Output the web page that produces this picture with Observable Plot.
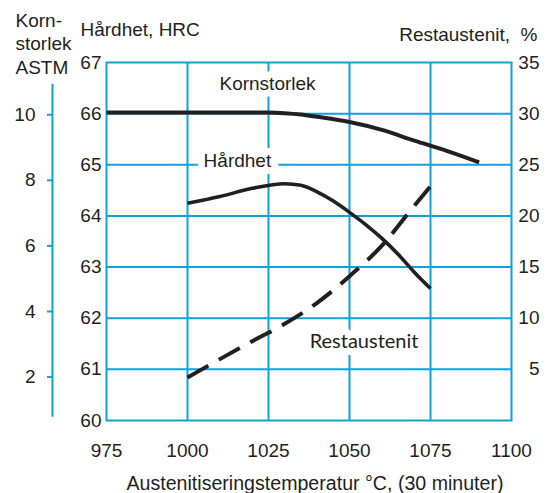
<!DOCTYPE html>
<html><head><meta charset="utf-8">
<script src="https://cdn.jsdelivr.net/npm/d3@7"></script>
<script src="https://cdn.jsdelivr.net/npm/@observablehq/plot@0.6"></script>
<style>body{margin:0;background:#fff}</style>
</head><body><div id="chart"></div>
<script>
// ---- data ----
const xTicks = [975, 1000, 1025, 1050, 1075, 1100];
const hrcTicks = [60, 61, 62, 63, 64, 65, 66, 67];
const astmTicks = [2, 4, 6, 8, 10];
const restTicks = [5, 10, 15, 20, 25, 30, 35];

const kornTemp = [975, 1000, 1025, 1030, 1035, 1040, 1050, 1060, 1070, 1080, 1090];
const kornAstm = [10.07, 10.07, 10.07, 10.05, 10.01, 9.94, 9.78, 9.54, 9.21, 8.90, 8.55];

const hardTemp = [1000, 1010, 1020, 1030, 1035, 1040, 1045, 1050, 1055, 1060, 1065, 1070, 1075];
const hardHrc = [64.25, 64.38, 64.54, 64.63, 64.6, 64.47, 64.29, 64.07, 63.83, 63.56, 63.25, 62.9, 62.58];

const restTemp = [1000, 1010, 1020, 1030, 1040, 1050, 1060, 1070, 1075];
const restPct = [4.2, 6.0, 7.75, 9.45, 11.5, 14.1, 17.1, 21.0, 22.9];

const labelText = ["Kornstorlek", "Hårdhet"];
const labelTemp = [1024.7, 1015.4];
const labelHrc = [66.59, 65.08];
const restLabel = ["Restaustenit"];
const restLabelTemp = [1054.5];
const restLabelHrc = [61.54];
const astmAxisSpan = [0.77, 10.93];

// ---- secondary axis conversions (to the HRC scale) ----
const astmToHrc = a => 60.85 + (a - 2) * 0.641;
const hrcToAstm = h => (h - 60.85) / 0.641 + 2;
const restToHrc = r => 60 + r / 5;
const hrcToRest = h => (h - 60) * 5;

const blue = "#12a0dd";
const ink = "#231f20";
const font = "'Liberation Sans', Arial, sans-serif";

const chart = Plot.plot({
  width: 547,
  height: 493,
  marginLeft: 106,
  marginRight: 36,
  marginTop: 62,
  marginBottom: 73,
  style: {fontFamily: font, fontSize: "19px", color: ink, background: "white", overflow: "visible"},
  x: {domain: [975, 1100], label: null, axis: null},
  y: {domain: [60, 67], label: null, axis: null},
  marks: [
    Plot.ruleX(xTicks.slice(1, -1), {stroke: blue, strokeWidth: 2}),
    Plot.ruleY(hrcTicks.slice(1, -1), {stroke: blue, strokeWidth: 2}),
    Plot.frame({stroke: blue, strokeWidth: 2}),
    // axes
    Plot.axisX({ticks: xTicks, anchor: "bottom", tickSize: 0, tickPadding: 23, label: null, tickFormat: d => String(d)}),
    Plot.axisY({ticks: hrcTicks, anchor: "left", tickSize: 0, tickPadding: 5, label: null, tickFormat: d => String(d)}),
    Plot.axisY({ticks: astmTicks.map(astmToHrc), tickFormat: d => String(Math.round(hrcToAstm(d))),
      anchor: "left", dx: -54, tickSize: 5, tickPadding: 12, stroke: blue, strokeWidth: 2, label: null}),
    Plot.ruleX([975], {y1: astmToHrc(astmAxisSpan[0]), y2: astmToHrc(astmAxisSpan[1]), dx: -54, stroke: blue, strokeWidth: 2}),
    Plot.axisY({ticks: restTicks.map(restToHrc), tickFormat: d => String(Math.round(hrcToRest(d))),
      anchor: "right", tickSize: 0, tickPadding: 28, textAnchor: "end", label: null}),
    // axis titles
    Plot.text(["Hårdhet, HRC"], {frameAnchor: "top-left", textAnchor: "start", lineAnchor: "bottom", dx: -26, dy: -27, fill: ink}),
    Plot.text(["Korn-\nstorlek\nASTM"], {frameAnchor: "top-left", textAnchor: "start", lineAnchor: "bottom", lineHeight: 1.23, dx: -91, dy: 11, fill: ink}),
    Plot.text(["Restaustenit,\u00a0\u00a0%"], {frameAnchor: "top-right", textAnchor: "end", lineAnchor: "bottom", dx: 26, dy: -22, fill: ink}),
    Plot.text(["Austenitiseringstemperatur °C, (30 minuter)"], {frameAnchor: "bottom", lineAnchor: "bottom", dx: 6, dy: 69, fill: ink, fontSize: 19.6}),
    // in-plot labels with white knockout
    Plot.text(labelText, {x: (d, i) => labelTemp[i], y: (d, i) => labelHrc[i], text: d => d,
      fill: ink, stroke: "white", strokeWidth: 14, lineAnchor: "middle"}),
    Plot.text(restLabel, {x: (d, i) => restLabelTemp[i], y: (d, i) => restLabelHrc[i], text: d => d,
      fill: ink, stroke: "white", strokeWidth: 14, lineAnchor: "middle", fontFamily: "Lato, 'Open Sans', sans-serif", fontSize: 20}),
    // curves
    Plot.line(kornTemp, {x: d => d, y: (d, i) => astmToHrc(kornAstm[i]), curve: "monotone-x",
      stroke: ink, strokeWidth: 4, strokeLinecap: "butt"}),
    Plot.line(hardTemp, {x: d => d, y: (d, i) => hardHrc[i], curve: "monotone-x",
      stroke: ink, strokeWidth: 3.6, strokeLinecap: "butt"}),
    Plot.line(restTemp, {x: d => d, y: (d, i) => restToHrc(restPct[i]), curve: "monotone-x",
      stroke: ink, strokeWidth: 4, strokeLinecap: "butt", strokeDasharray: "24,12"})
  ]
});
document.getElementById("chart").appendChild(chart);
</script>
</body></html>
